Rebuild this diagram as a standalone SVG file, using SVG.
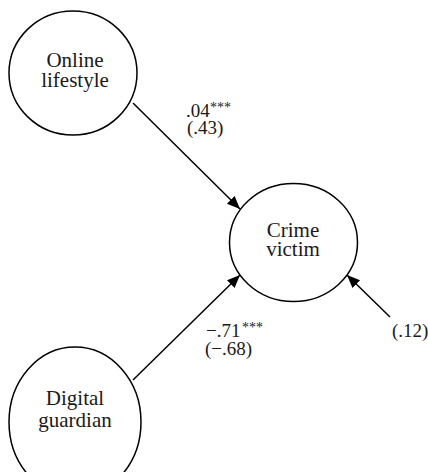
<svg xmlns="http://www.w3.org/2000/svg" width="428" height="472" viewBox="0 0 428 472">
<defs>
<style>
.node{fill:#fff;stroke:#000;stroke-width:1.5}
.nt{font-family:"Liberation Serif","Times New Roman",serif;font-size:21px;fill:#1a1a1a;text-anchor:middle}
.lb{font-family:"Liberation Serif","Times New Roman",serif;font-size:19px;fill:#1a1a1a}
.st{font-size:14px}
.edge{stroke:#000;stroke-width:1.5;fill:none;marker-end:url(#arr)}
</style>
<marker id="arr" markerUnits="userSpaceOnUse" markerWidth="14" markerHeight="12" refX="13" refY="5.5" orient="auto">
<path d="M0,0 L13,5.5 L0,11 z" fill="#000"/>
</marker>
</defs>
<rect width="428" height="472" fill="#fff"/>
<g id="connectors">
<line class="edge" x1="133" y1="103" x2="240" y2="209"/>
<line class="edge" x1="133" y1="380" x2="240" y2="275"/>
<line class="edge" x1="390" y1="317" x2="347" y2="275"/>
</g>
<g id="online-lifestyle">
<ellipse class="node" cx="73" cy="73" rx="64" ry="62"/>
<text class="nt" x="75" y="67">Online<tspan x="75" y="87">lifestyle</tspan></text>
</g>
<g id="crime-victim">
<ellipse class="node" cx="293.5" cy="242.5" rx="64" ry="59"/>
<text class="nt" x="293" y="236.5">Crime<tspan x="293" y="256">victim</tspan></text>
</g>
<g id="digital-guardian">
<ellipse class="node" cx="75" cy="422" rx="66" ry="75"/>
<text class="nt" x="75" y="405">Digital<tspan x="75" y="427">guardian</tspan></text>
</g>
<g id="labels">
<text class="lb" x="186" y="117">.04<tspan class="st" x="210" y="112">***</tspan><tspan x="187" y="134">(.43)</tspan></text>
<text class="lb" x="206" y="337">−.71<tspan class="st" x="242" y="332">***</tspan><tspan x="205" y="355">(−.68)</tspan></text>
<text class="lb" x="392" y="337">(.12)</text>
</g>
</svg>
